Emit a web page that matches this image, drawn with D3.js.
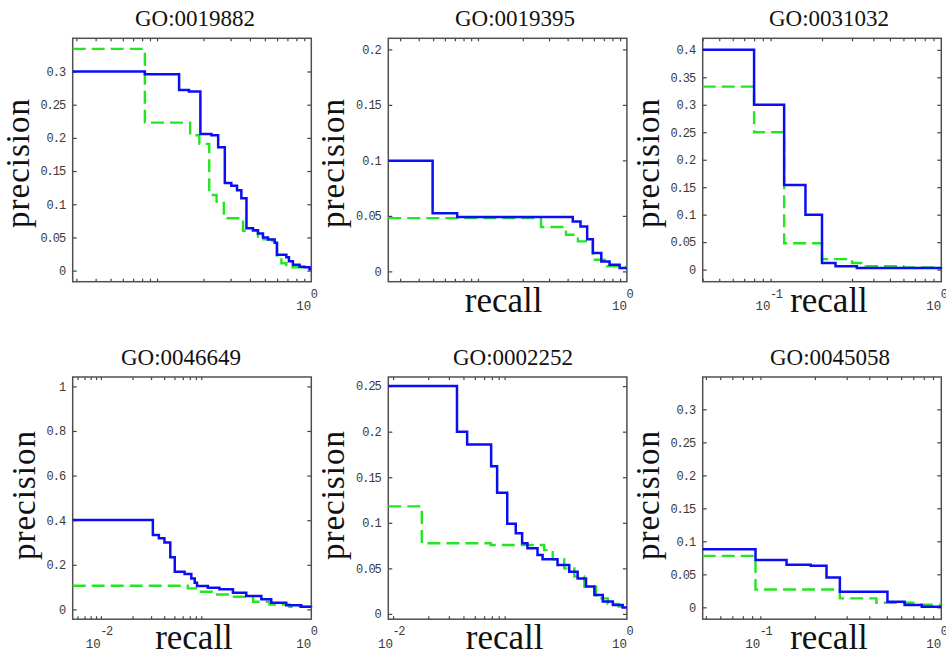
<!DOCTYPE html>
<html>
<head>
<meta charset="utf-8">
<script src="https://cdn.jsdelivr.net/npm/d3@7/dist/d3.min.js"></script>
<style>
  body { margin: 0; background: #fff; }
  svg { display: block; }
</style>
</head>
<body>
<svg id="fig" width="946" height="660"></svg>
<script>
// ---- panel titles (GO terms) ----
const titles = ["GO:0019882", "GO:0019395", "GO:0031032", "GO:0046649", "GO:0002252", "GO:0045058"];

// ---- axis extents ----
const recallDomains = [[0.0284, 1], [0.025, 1], [0.04, 1], [0.0054, 1], [0.0091, 1], [0.048, 1]];
const precisionDomains = [[-0.0167, 0.35], [-0.0093, 0.21], [-0.022, 0.421], [-0.044, 1.042], [-0.0058, 0.26], [-0.018, 0.349]];

// ---- tick values / labels ----
const precisionTicks = [
  [0, 0.05, 0.1, 0.15, 0.2, 0.25, 0.3],
  [0, 0.05, 0.1, 0.15, 0.2],
  [0, 0.05, 0.1, 0.15, 0.2, 0.25, 0.3, 0.35, 0.4],
  [0, 0.2, 0.4, 0.6, 0.8, 1],
  [0, 0.05, 0.1, 0.15, 0.2, 0.25],
  [0, 0.05, 0.1, 0.15, 0.2, 0.25, 0.3]
];
const recallLabelExponents = [[0], [0], [-1, 0], [-2, 0], [-2, 0], [-1, 0]];
const recallTickDecades = [[-2, -1], [-2, -1], [-2, -1], [-3, -2], [-3, -2], [-2, -1]];
const showRecallLabel = [false, true, true, true, true, true];

// ---- precision-recall step curves: [recall, precision] ----
const solid1 = [[0.0284,0.300],[0.0834,0.296],[0.139,0.272],[0.161,0.270],[0.191,0.206],[0.225,0.204],[0.249,0.186],[0.275,0.132],[0.303,0.128],[0.330,0.121],[0.352,0.109],[0.380,0.064],[0.419,0.061],[0.451,0.056],[0.486,0.050],[0.524,0.047],[0.579,0.042],[0.599,0.024],[0.689,0.020],[0.716,0.014],[0.760,0.009],[0.840,0.006],[0.905,0.005],[0.975,0.002],[1,0.002]];
const dashed1 = [[0.0284,0.334],[0.0834,0.223],[0.164,0.204],[0.188,0.191],[0.218,0.114],[0.243,0.104],[0.271,0.079],[0.361,0.060],[0.451,0.047],[0.560,0.040],[0.599,0.020],[0.64,0.011],[0.689,0.005],[0.905,0.003],[1,0.003]];

const solid2 = [[0.025,0.0997],[0.0496,0.0524],[0.0725,0.0489],[0.433,0.045],[0.488,0.0404],[0.541,0.029],[0.591,0.0165],[0.673,0.009],[0.765,0.006],[0.894,0.003],[1,0.003]];
const dashed2 = [[0.025,0.048],[0.265,0.040],[0.39,0.033],[0.469,0.027],[0.59,0.0105],[0.708,0.0045],[1,0.004]];

const solid3 = [[0.04,0.4],[0.08,0.3],[0.12,0.154],[0.16,0.1],[0.2,0.012],[0.24,0.006],[0.32,0.003],[1,0.002]];
const dashed3 = [[0.04,0.333],[0.08,0.25],[0.12,0.048],[0.2,0.019],[0.30,0.012],[0.36,0.006],[0.6,0.004],[1,0.003]];

const solid4 = [[0.0054,0.401],[0.0312,0.334],[0.0356,0.319],[0.0402,0.30],[0.0457,0.234],[0.0504,0.169],[0.0625,0.159],[0.0724,0.139],[0.078,0.12],[0.082,0.105],[0.104,0.097],[0.134,0.09],[0.18,0.075],[0.241,0.06],[0.335,0.045],[0.416,0.03],[0.578,0.019],[0.80,0.012],[1,0.01]];
const dashed4 = [[0.0054,0.106],[0.067,0.094],[0.08,0.079],[0.12,0.067],[0.167,0.057],[0.28,0.034],[0.40,0.022],[0.62,0.012],[1,0.01]];

const solid5 = [[0.0091,0.25],[0.0352,0.20],[0.043,0.186],[0.069,0.162],[0.0776,0.133],[0.0947,0.099],[0.112,0.0885],[0.127,0.0775],[0.141,0.072],[0.172,0.0647],[0.19,0.06],[0.255,0.0537],[0.321,0.0464],[0.379,0.039],[0.447,0.030],[0.527,0.0208],[0.622,0.0135],[0.758,0.0099],[0.92,0.007],[1,0.007]];
const dashed5 = [[0.0091,0.118],[0.0176,0.0775],[0.0683,0.0757],[0.196,0.070],[0.232,0.060],[0.291,0.050],[0.355,0.041],[0.432,0.030],[0.545,0.017],[0.686,0.011],[0.85,0.008],[1,0.008]];

const solid6 = [[0.048,0.088],[0.094,0.0717],[0.1395,0.0645],[0.19,0.063],[0.232,0.045],[0.275,0.0237],[0.504,0.0085],[0.627,0.0035],[0.78,0.001],[1,0.001]];
const dashed6 = [[0.048,0.078],[0.094,0.027],[0.275,0.0136],[0.438,0.007],[0.70,0.004],[1,0.004]];

const solidCurves = [solid1, solid2, solid3, solid4, solid5, solid6];
const dashedCurves = [dashed1, dashed2, dashed3, dashed4, dashed5, dashed6];

// ---- layout of the 2x3 grid ----
const layout = {
  cols: [72.7, 388.3, 702.7],
  rows: [38.3, 377],
  width: 238.6,
  heights: [243.4, 242.2],
  titleCenters: [195, 515, 829, 181, 513, 830],
  recallShift: [0, -4, 7, 2, -3, 7]
};

const svg = d3.select("#fig");
svg.append("rect").attr("width", 946).attr("height", 660).attr("fill", "#fff");

const serif = "'Liberation Serif', 'Times New Roman', serif";
const mono = "'Liberation Mono', 'Courier New', monospace";
const axisColor = "#505050";
const tickTextColor = "#3a3a3a";

titles.forEach((title, i) => {
  const col = i % 3, row = Math.floor(i / 3);
  const x0 = layout.cols[col], y0 = layout.rows[row];
  const w = layout.width, h = layout.heights[row];

  const x = d3.scaleLog().domain(recallDomains[i]).range([0, w]);
  const y = d3.scaleLinear().domain(precisionDomains[i]).range([h, 0]);

  const g = svg.append("g").attr("transform", `translate(${x0},${y0})`);

  // title
  svg.append("text")
    .attr("x", layout.titleCenters[i]).attr("y", y0 - 12)
    .attr("text-anchor", "middle")
    .attr("font-family", serif).attr("font-size", 23)
    .attr("fill", "#111")
    .text(title);

  // clip for curves
  const clipId = "clip" + i;
  g.append("clipPath").attr("id", clipId)
    .append("rect").attr("x", -1).attr("y", -1).attr("width", w + 2).attr("height", h + 2);

  // recall ticks: k * 10^d for listed decades, plus 10^0
  const [lo, hi] = recallDomains[i];
  const xTicks = [];
  recallTickDecades[i].forEach(d => {
    for (let k = 1; k <= 9; k++) {
      const v = k * Math.pow(10, d);
      if (v >= lo && v <= hi) xTicks.push(v);
    }
  });

  // precision axis (left with labels, right mirrored), recall ticks bottom and top
  const yAxisL = g.append("g")
    .call(d3.axisLeft(y).tickValues(precisionTicks[i]).tickSize(-4).tickPadding(7.5).tickFormat(d3.format("~g")));
  const yAxisR = g.append("g").attr("transform", `translate(${w},0)`)
    .call(d3.axisRight(y).tickValues(precisionTicks[i]).tickSize(-4).tickFormat(""));
  const xAxisB = g.append("g").attr("transform", `translate(0,${h})`)
    .call(d3.axisBottom(x).tickValues(xTicks).tickSize(-3).tickFormat(""));
  const xAxisT = g.append("g")
    .call(d3.axisTop(x).tickValues(xTicks).tickSize(-3).tickFormat(""));

  [yAxisL, yAxisR, xAxisB, xAxisT].forEach(a => {
    a.select(".domain").remove();
    a.selectAll(".tick line").attr("stroke", "#444").attr("stroke-width", 1.2);
  });
  yAxisL.selectAll(".tick text")
    .attr("font-family", mono).attr("font-size", 12)
    .attr("letter-spacing", "-1px")
    .attr("fill", tickTextColor);

  // exponent-style recall labels
  recallLabelExponents[i].forEach(e => {
    const px = x(Math.pow(10, e));
    g.append("text")
      .attr("x", px).attr("y", h + 28.5)
      .attr("text-anchor", "end")
      .attr("font-family", mono).attr("font-size", 12.5)
      .attr("fill", tickTextColor)
      .text("10");
    g.append("text")
      .attr("x", px - 0.5).attr("y", h + 16)
      .attr("text-anchor", "start")
      .attr("font-family", mono).attr("font-size", 12)
      .attr("letter-spacing", "-1.5px")
      .attr("fill", tickTextColor)
      .text(String(e));
  });

  // box
  g.append("rect")
    .attr("width", w).attr("height", h)
    .attr("fill", "none").attr("stroke", axisColor).attr("stroke-width", 1.5);

  // curves
  const line = d3.line()
    .x(d => x(d[0])).y(d => y(d[1]))
    .curve(d3.curveStepAfter);

  const curves = g.append("g").attr("clip-path", `url(#${clipId})`);
  curves.append("path")
    .datum(dashedCurves[i])
    .attr("d", line)
    .attr("fill", "none")
    .attr("stroke", "#22e622")
    .attr("stroke-width", 2.4)
    .attr("stroke-dasharray", "13,6");
  curves.append("path")
    .datum(solidCurves[i])
    .attr("d", line)
    .attr("fill", "none")
    .attr("stroke", "#0d0df5")
    .attr("stroke-width", 2.5);

  // precision label, placed clear of the widest tick label
  let maxW = 0;
  yAxisL.selectAll(".tick text").each(function () {
    maxW = Math.max(maxW, this.getComputedTextLength());
  });
  const bx = -(7.5 + maxW + 11.5);
  g.append("text")
    .attr("transform", `translate(${bx},${h / 2 + (row === 0 ? 3 : -3)}) rotate(-90)`)
    .attr("text-anchor", "middle")
    .attr("font-family", serif).attr("font-size", 33)
    .attr("letter-spacing", "1px")
    .attr("fill", "#111")
    .text("precision");

  if (showRecallLabel[i]) {
    g.append("text")
      .attr("x", w / 2 + layout.recallShift[i]).attr("y", h + 30)
      .attr("text-anchor", "middle")
      .attr("font-family", serif).attr("font-size", 35)
      .attr("fill", "#111")
      .text("recall");
  }
});
</script>
</body>
</html>
